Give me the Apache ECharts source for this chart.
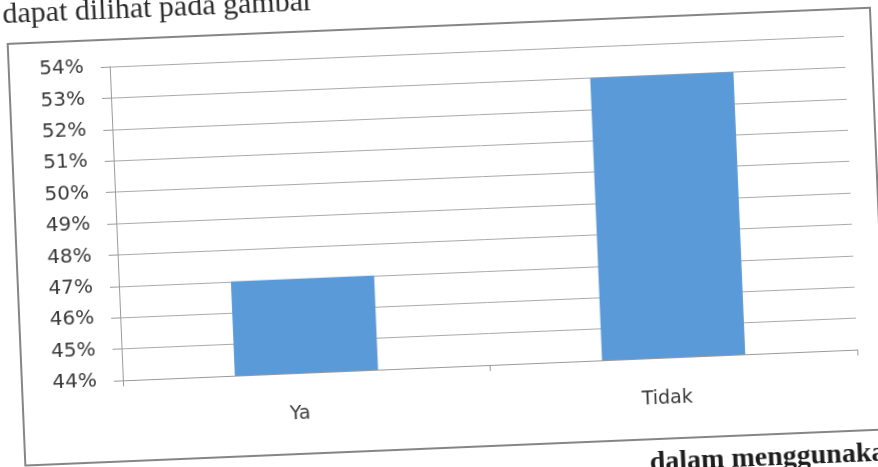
<!DOCTYPE html>
<html>
<head>
<meta charset="utf-8">
<script src="https://cdn.jsdelivr.net/npm/echarts@6/dist/echarts.min.js"></script>
<style>
  html, body { margin: 0; padding: 0; background: #fff; overflow: hidden; width: 878px; height: 467px; }
  #chart {
    position: absolute; left: -40px; top: -40px;
    width: 958px; height: 547px;
    transform: rotate(-2.4deg);
    transform-origin: 50% 50%;
  }
</style>
</head>
<body>
<div id="chart"></div>
<script>
// Survey answers (percent of respondents)
const categories = ['Ya', 'Tidak'];
const values = [47, 53];

// Value axis range and step, in percent
const yMin = 44;
const yMax = 54;
const yStep = 1;

// Surrounding page text
const pageTextTop = 'dapat dilihat pada gambar';
const pageTextBottom = 'dalam menggunakan';

const PAD = 40; // canvas margin around the page area
const W = 958;
const H = 547;

const chart = echarts.init(document.getElementById('chart'), null, { renderer: 'canvas' });

chart.setOption({
  backgroundColor: '#ffffff',
  animation: false,
  grid: { left: 117 + PAD, right: W - (852 + PAD), top: 53 + PAD, bottom: H - (367 + PAD), containLabel: false },
  xAxis: {
    type: 'category',
    data: categories,
    axisLine: { show: true, lineStyle: { color: '#9a9a9a', width: 1 } },
    axisTick: { show: true, length: 6, lineStyle: { color: '#9a9a9a' } },
    axisLabel: { color: '#3a3a3a', fontSize: 19, fontFamily: 'DejaVu Sans', margin: 32, padding: [0, 16, 0, 0] },
    splitLine: { show: false }
  },
  yAxis: {
    type: 'value',
    min: yMin,
    max: yMax,
    interval: yStep,
    axisLine: { show: true, lineStyle: { color: '#9a9a9a', width: 1 } },
    axisTick: { show: true, length: 9, lineStyle: { color: '#9a9a9a' } },
    axisLabel: { color: '#3a3a3a', fontSize: 20, fontFamily: 'DejaVu Sans', margin: 26, formatter: '{value}%' },
    splitLine: { show: true, lineStyle: { color: '#aaaaaa', width: 1 } }
  },
  series: [{
    type: 'bar',
    data: values,
    barCategoryGap: '61%',
    itemStyle: { color: '#5b9ad9' }
  }],
  graphic: [
    {
      type: 'rect',
      silent: true,
      shape: { x: 16 + PAD, y: 26 + PAD, width: 863, height: 422 },
      style: { fill: 'none', stroke: '#858585', lineWidth: 2 }
    },
    {
      type: 'text',
      silent: true,
      x: 12 + PAD, y: 12 + PAD,
      style: { text: pageTextTop, font: '30px "Liberation Serif"', fill: '#2a2a2a', verticalAlign: 'bottom' }
    },
    {
      type: 'text',
      silent: true,
      x: 640 + PAD, y: 486 + PAD,
      style: { text: pageTextBottom, font: 'bold 28px "Liberation Serif"', fill: '#1e1e1e', verticalAlign: 'bottom' }
    }
  ]
});
</script>
</body>
</html>
